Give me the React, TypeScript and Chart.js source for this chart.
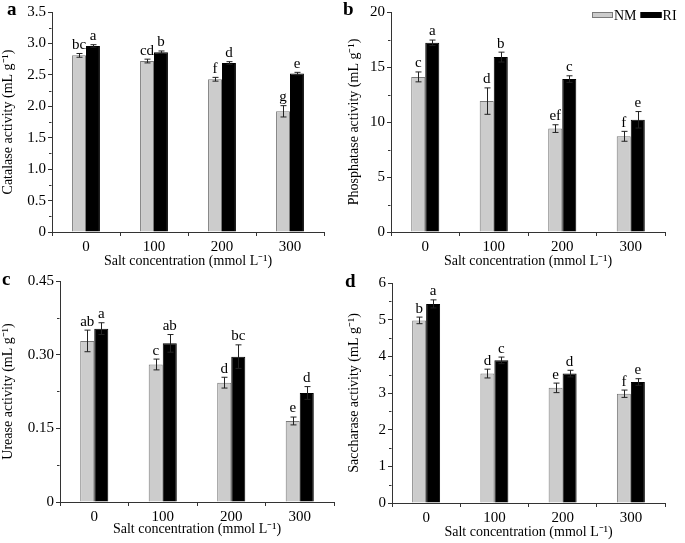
import React, { useEffect, useRef } from "react";
import { Chart, registerables } from "chart.js";
Chart.register(...registerables);

const categories = ["0", "100", "200", "300"];
const seriesNames = ["NM", "RI"];
const xTitle = "Salt concentration (mmol L⁻¹)";

const catalaseNM = [2.81, 2.72, 2.43, 1.92];
const catalaseNMErr = [0.03, 0.03, 0.03, 0.09];
const catalaseRI = [2.96, 2.86, 2.69, 2.52];
const catalaseRIErr = [0.02, 0.02, 0.02, 0.02];
const catalaseNMLetters = ["bc", "cd", "f", "g"];
const catalaseRILetters = ["a", "b", "d", "e"];
const catalaseTicks = ["0", "0.5", "1.0", "1.5", "2.0", "2.5", "3.0", "3.5"];

const phosphataseNM = [14.1, 11.9, 9.4, 8.7];
const phosphataseNMErr = [0.45, 1.2, 0.35, 0.45];
const phosphataseRI = [17.2, 15.9, 13.9, 10.2];
const phosphataseRIErr = [0.25, 0.45, 0.3, 0.75];
const phosphataseNMLetters = ["c", "d", "ef", "f"];
const phosphataseRILetters = ["a", "b", "c", "e"];
const phosphataseTicks = ["0", "5", "10", "15", "20"];

const ureaseNM = [0.328, 0.28, 0.243, 0.165];
const ureaseNMErr = [0.022, 0.011, 0.011, 0.008];
const ureaseRI = [0.353, 0.323, 0.296, 0.222];
const ureaseRIErr = [0.012, 0.018, 0.024, 0.013];
const ureaseNMLetters = ["ab", "c", "d", "e"];
const ureaseRILetters = ["a", "ab", "bc", "d"];
const ureaseTicks = ["0", "0.15", "0.30", "0.45"];

const saccharaseNM = [4.98, 3.53, 3.14, 2.98];
const saccharaseNMErr = [0.09, 0.12, 0.13, 0.1];
const saccharaseRI = [5.43, 3.89, 3.53, 3.3];
const saccharaseRIErr = [0.11, 0.09, 0.09, 0.09];
const saccharaseNMLetters = ["b", "d", "e", "f"];
const saccharaseRILetters = ["a", "c", "d", "e"];
const saccharaseTicks = ["0", "1", "2", "3", "4", "5", "6"];

const FONT = "'Liberation Serif', 'Times New Roman', serif";
const NM_FILL = "#cccccc";
const NM_BORDER = "#7a7a7a";
const RI_FILL = "#000000";
const AXIS = "#333333";

type PanelCfg = {
  tag: string;
  yTitle: string;
  nm: number[];
  nmErr: number[];
  ri: number[];
  riErr: number[];
  nmLetters: string[];
  riLetters: string[];
  ticks: string[];
  majorStep: number;
  left: number;
  top: number;
  w: number;
  h: number;
  area: { l: number; r: number; t: number; b: number };
  padBottom: number;
  yTitlePad: number;
  tagPos: [number, number];
  legend: boolean;
};

function Panel({ cfg }: { cfg: PanelCfg }) {
  const ref = useRef<HTMLCanvasElement | null>(null);
  useEffect(() => {
    if (!ref.current) return;
    const minorStep = cfg.majorStep / 2;
    const max = cfg.majorStep * (cfg.ticks.length - 1);
    const isMinor = (v: number) => Math.round(v / minorStep) % 2 !== 0;
    const overlay = {
      id: "overlay",
      afterDatasetsDraw(chart: any) {
        const ctx = chart.ctx;
        const yScale = chart.scales.y;
        const errs = [cfg.nmErr, cfg.riErr];
        const letters = [cfg.nmLetters, cfg.riLetters];
        ctx.save();
        chart.data.datasets.forEach((ds: any, di: number) => {
          const meta = chart.getDatasetMeta(di);
          meta.data.forEach((bar: any, i: number) => {
            const v = ds.data[i];
            const e = errs[di][i];
            const yT = yScale.getPixelForValue(v + e);
            const yB = yScale.getPixelForValue(v - e);
            const x = Math.round(bar.x) + 0.5;
            ctx.strokeStyle = "#222";
            ctx.lineWidth = 1;
            ctx.beginPath();
            ctx.moveTo(x, yT);
            ctx.lineTo(x, yB);
            ctx.moveTo(x - 3, yT);
            ctx.lineTo(x + 3, yT);
            ctx.moveTo(x - 3, yB);
            ctx.lineTo(x + 3, yB);
            ctx.stroke();
            ctx.fillStyle = "#000";
            ctx.font = `15px ${FONT}`;
            ctx.textAlign = "center";
            ctx.textBaseline = "bottom";
            ctx.fillText(letters[di][i], bar.x, yT - 1);
          });
        });
        ctx.restore();
      },
      afterDraw(chart: any) {
        const ctx = chart.ctx;
        const yScale = chart.scales.y;
        ctx.save();
        // short minor ticks on the y axis
        ctx.strokeStyle = AXIS;
        ctx.lineWidth = 1;
        ctx.beginPath();
        const axX = Math.round(chart.chartArea.left) - 0.5;
        yScale.ticks.forEach((t: any) => {
          if (isMinor(t.value)) {
            const y = Math.round(yScale.getPixelForValue(t.value)) + 0.5;
            ctx.moveTo(axX, y);
            ctx.lineTo(axX - 2.5, y);
          }
        });
        ctx.stroke();
        ctx.fillStyle = "#000";
        ctx.font = `bold 19px ${FONT}`;
        ctx.textAlign = "left";
        ctx.textBaseline = "alphabetic";
        ctx.fillText(cfg.tag, cfg.tagPos[0], cfg.tagPos[1]);
        if (cfg.legend) {
          ctx.font = `14px ${FONT}`;
          ctx.textBaseline = "middle";
          let x = 252;
          const y = 15;
          chart.data.datasets.forEach((ds: any) => {
            ctx.fillStyle = ds.backgroundColor;
            ctx.fillRect(x, y - 3, 21, 6);
            ctx.strokeStyle = ds.borderColor;
            ctx.lineWidth = 1;
            ctx.strokeRect(x + 0.5, y - 2.5, 20, 5);
            ctx.fillStyle = "#000";
            ctx.fillText(ds.label, x + 22, y + 1);
            x += 22 + ctx.measureText(ds.label).width + 4;
          });
        }
        ctx.restore();
      },
    };
    const chart = new Chart(ref.current, {
      type: "bar",
      data: {
        labels: categories,
        datasets: [
          {
            label: seriesNames[0],
            data: cfg.nm,
            backgroundColor: NM_FILL,
            borderColor: NM_BORDER,
            borderWidth: 1,
            categoryPercentage: 0.41,
            barPercentage: 1.0,
          },
          {
            label: seriesNames[1],
            data: cfg.ri,
            backgroundColor: RI_FILL,
            borderColor: RI_FILL,
            borderWidth: 1,
            categoryPercentage: 0.41,
            barPercentage: 1.0,
          },
        ],
      },
      options: {
        animation: false,
        responsive: false,
        events: [],
        layout: {
          padding: {
            left: 0,
            top: cfg.area.t,
            right: cfg.w - cfg.area.r,
            bottom: cfg.padBottom,
          },
        },
        plugins: {
          legend: { display: false },
          tooltip: { enabled: false },
        },
        scales: {
          x: {
            afterFit: (s: any) => {
              s.height = cfg.h - cfg.padBottom - cfg.area.b;
            },
            grid: {
              offset: true,
              drawOnChartArea: false,
              drawTicks: true,
              tickLength: 4,
              color: AXIS,
            },
            border: { display: true, color: AXIS, width: 1 },
            ticks: {
              color: "#000",
              font: { family: FONT, size: 15 },
              padding: 2,
              maxRotation: 0,
            },
            title: {
              display: true,
              text: xTitle,
              color: "#000",
              font: { family: FONT, size: 14 },
              padding: { top: 0, bottom: 0 },
            },
          },
          y: {
            min: 0,
            max: max,
            afterFit: (s: any) => {
              s.width = cfg.area.l;
            },
            grid: {
              drawOnChartArea: false,
              drawTicks: true,
              tickLength: 4,
              color: AXIS,
              tickColor: (c: any) =>
                c.tick && isMinor(c.tick.value) ? "rgba(0,0,0,0)" : AXIS,
            },
            border: { display: true, color: AXIS, width: 1 },
            ticks: {
              stepSize: minorStep,
              autoSkip: false,
              color: "#000",
              font: { family: FONT, size: 15 },
              padding: 2,
              callback: (v: any) => {
                const idx = Math.round(Number(v) / minorStep);
                if (idx % 2 !== 0) return "";
                return cfg.ticks[idx / 2] ?? "";
              },
            },
            title: {
              display: true,
              text: cfg.yTitle,
              color: "#000",
              font: { family: FONT, size: 14 },
              padding: { top: cfg.yTitlePad, bottom: 0 },
            },
          },
        },
      },
      plugins: [overlay],
    });
    return () => chart.destroy();
  }, [cfg]);
  return (
    <canvas
      ref={ref}
      width={cfg.w}
      height={cfg.h}
      style={{
        position: "absolute",
        left: cfg.left,
        top: cfg.top,
        width: cfg.w,
        height: cfg.h,
      }}
    />
  );
}

const panels: PanelCfg[] = [
  {
    tag: "a",
    yTitle: "Catalase activity (mL g⁻¹)",
    nm: catalaseNM,
    nmErr: catalaseNMErr,
    ri: catalaseRI,
    riErr: catalaseRIErr,
    nmLetters: catalaseNMLetters,
    riLetters: catalaseRILetters,
    ticks: catalaseTicks,
    majorStep: 0.5,
    left: 0,
    top: 0,
    w: 340,
    h: 270,
    area: { l: 52, r: 324, t: 12, b: 232 },
    padBottom: 0,
    yTitlePad: 0,
    tagPos: [7, 15],
    legend: false,
  },
  {
    tag: "b",
    yTitle: "Phosphatase activity (mL g⁻¹)",
    nm: phosphataseNM,
    nmErr: phosphataseNMErr,
    ri: phosphataseRI,
    riErr: phosphataseRIErr,
    nmLetters: phosphataseNMLetters,
    riLetters: phosphataseRILetters,
    ticks: phosphataseTicks,
    majorStep: 5,
    left: 340,
    top: 0,
    w: 345,
    h: 270,
    area: { l: 51, r: 325, t: 12, b: 232 },
    padBottom: 0,
    yTitlePad: 6,
    tagPos: [3, 15],
    legend: true,
  },
  {
    tag: "c",
    yTitle: "Urease activity (mL g⁻¹)",
    nm: ureaseNM,
    nmErr: ureaseNMErr,
    ri: ureaseRI,
    riErr: ureaseRIErr,
    nmLetters: ureaseNMLetters,
    riLetters: ureaseRILetters,
    ticks: ureaseTicks,
    majorStep: 0.15,
    left: 0,
    top: 270,
    w: 340,
    h: 273,
    area: { l: 60, r: 334, t: 11, b: 232 },
    padBottom: 5,
    yTitlePad: 0,
    tagPos: [2, 15],
    legend: false,
  },
  {
    tag: "d",
    yTitle: "Saccharase activity (mL g⁻¹)",
    nm: saccharaseNM,
    nmErr: saccharaseNMErr,
    ri: saccharaseRI,
    riErr: saccharaseRIErr,
    nmLetters: saccharaseNMLetters,
    riLetters: saccharaseRILetters,
    ticks: saccharaseTicks,
    majorStep: 1,
    left: 340,
    top: 270,
    w: 345,
    h: 273,
    area: { l: 52, r: 325, t: 13, b: 233 },
    padBottom: 2,
    yTitlePad: 6,
    tagPos: [5, 17],
    legend: false,
  },
];

export default function App() {
  return (
    <div
      style={{
        position: "absolute",
        left: 0,
        top: 0,
        width: 685,
        height: 543,
        background: "#fff",
      }}
    >
      {panels.map((p) => (
        <Panel key={p.tag} cfg={p} />
      ))}
    </div>
  );
}
